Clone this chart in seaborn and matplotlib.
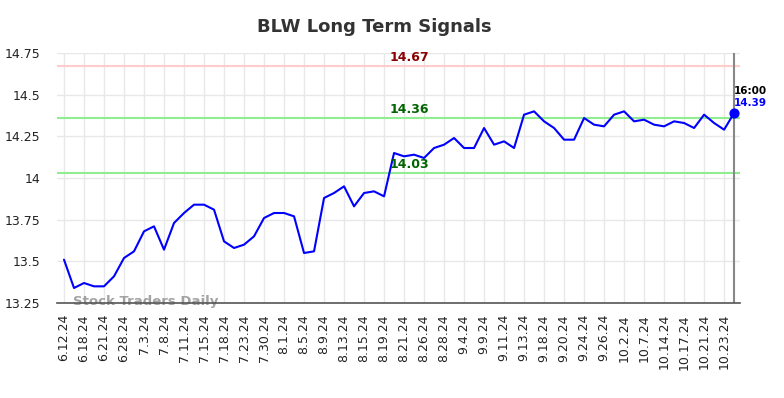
import matplotlib
matplotlib.use("Agg")
import matplotlib.pyplot as plt
import seaborn as sns
import pandas as pd
import numpy as np

tick_labels = ["6.12.24", "6.18.24", "6.21.24", "6.28.24", "7.3.24", "7.8.24", "7.11.24",
               "7.15.24", "7.18.24", "7.23.24", "7.30.24", "8.1.24", "8.5.24", "8.9.24",
               "8.13.24", "8.15.24", "8.19.24", "8.21.24", "8.26.24", "8.28.24", "9.4.24",
               "9.9.24", "9.11.24", "9.13.24", "9.18.24", "9.20.24", "9.24.24", "9.26.24",
               "10.2.24", "10.7.24", "10.14.24", "10.17.24", "10.21.24", "10.23.24"]

prices = [13.51, 13.34, 13.37, 13.35, 13.35, 13.41, 13.52, 13.56, 13.68, 13.71,
          13.57, 13.73, 13.79, 13.84, 13.84, 13.81, 13.62, 13.58, 13.60, 13.65,
          13.76, 13.79, 13.79, 13.77, 13.55, 13.56, 13.88, 13.91, 13.95, 13.83,
          13.91, 13.92, 13.89, 14.15, 14.13, 14.14, 14.12, 14.18, 14.20, 14.24,
          14.18, 14.18, 14.30, 14.20, 14.22, 14.18, 14.38, 14.40, 14.34, 14.30,
          14.23, 14.23, 14.36, 14.32, 14.31, 14.38, 14.40, 14.34, 14.35, 14.32,
          14.31, 14.34, 14.33, 14.30, 14.38, 14.33, 14.29, 14.39]

resistance = 14.67
support_high = 14.36
support_low = 14.03
last_time = "16:00"
title = "BLW Long Term Signals"
y_ticks = [13.25, 13.5, 13.75, 14.0, 14.25, 14.5, 14.75]

df = pd.DataFrame({"idx": np.arange(len(prices)), "price": prices})

sns.set_style("white")
fig = plt.figure(figsize=(7.84, 3.98), dpi=100)
ax = fig.add_axes([0.0727, 0.2387, 0.8713, 0.6281])

ax.set_xlim(-0.7, 67.6)
ax.set_ylim(13.25, 14.75)

tick_pos = list(range(0, len(prices), 2))
ax.set_xticks(tick_pos)
ax.set_xticklabels(tick_labels, rotation=90, fontsize=9, color="#222222")
ax.set_yticks(y_ticks)
ax.set_yticklabels(["%g" % v for v in y_ticks], fontsize=9, color="#222222")
ax.tick_params(axis="both", length=0)
ax.tick_params(axis="y", pad=12)
ax.tick_params(axis="x", pad=8)

ax.grid(True, color="#e8e8e8", linewidth=1)
ax.set_axisbelow(True)
for s in ["left", "top", "right"]:
    ax.spines[s].set_visible(False)
ax.spines["bottom"].set_color("#555555")
ax.spines["bottom"].set_linewidth(1.2)

ax.axhline(resistance, color="#ffcccc", linewidth=1.5, zorder=1)
ax.axhline(support_high, color="#90ee90", linewidth=1.5, zorder=1)
ax.axhline(support_low, color="#90ee90", linewidth=1.5, zorder=1)
ax.axvline(len(prices) - 1, color="#888888", linewidth=1.5, zorder=1)

sns.lineplot(data=df, x="idx", y="price", ax=ax, color="#0000ff", linewidth=1.5, zorder=3)
ax.set_xlabel("")
ax.set_ylabel("")

mid = 34.5
ax.text(mid, resistance + 0.012, "%.2f" % resistance, color="#8b0000", fontsize=9,
        fontweight="bold", ha="center", va="bottom")
ax.text(mid, support_high + 0.012, "%.2f" % support_high, color="#006400", fontsize=9,
        fontweight="bold", ha="center", va="bottom")
ax.text(mid, support_low + 0.012, "%.2f" % support_low, color="#006400", fontsize=9,
        fontweight="bold", ha="center", va="bottom")

last_i = len(prices) - 1
ax.scatter([last_i], [prices[-1]], color="#0000ff", s=40, zorder=4)
ax.text(last_i, prices[-1] + 0.1, last_time, color="#000000", fontsize=7.5,
        fontweight="bold", ha="left", va="bottom", clip_on=False)
ax.text(last_i, prices[-1] + 0.03, "%.2f" % prices[-1], color="#0000ff", fontsize=7.5,
        fontweight="bold", ha="left", va="bottom", clip_on=False)

ax.text(0.9, 13.256, "Stock Traders Daily", color="#999999", fontsize=9.5,
        fontweight="bold", ha="left", va="center", alpha=0.9, zorder=2, clip_on=False)

fig.suptitle(title, x=0.478, y=0.955, fontsize=13, fontweight="bold", color="#333333")

fig.savefig("out.png", dpi=100)
